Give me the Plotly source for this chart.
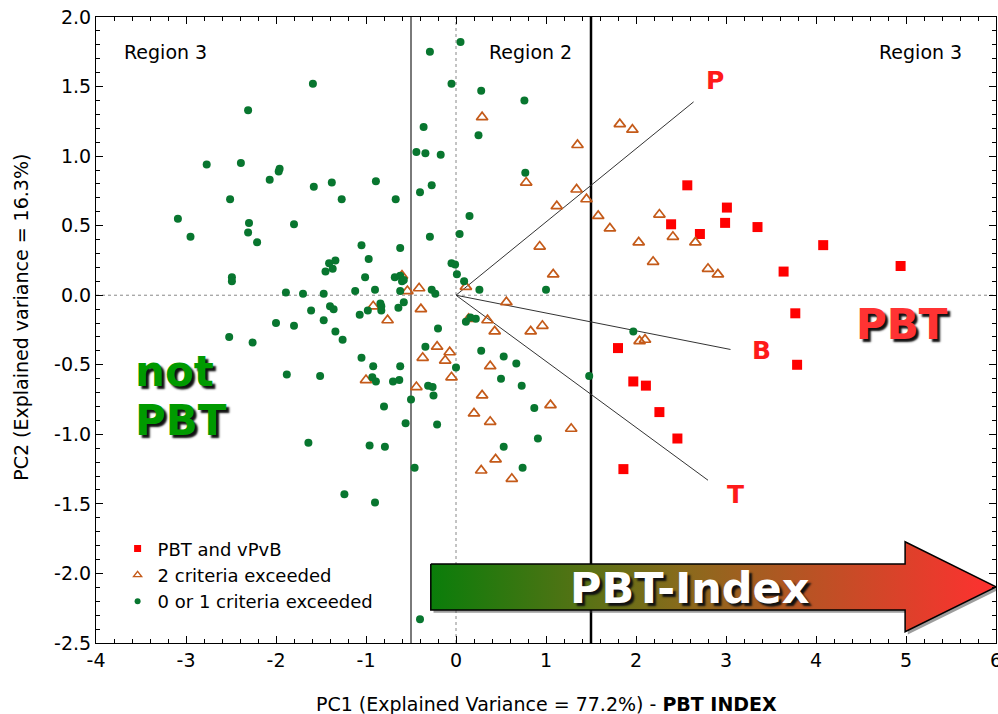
import plotly.graph_objects as go

# ---------------- data ----------------
pbt_x = [2.57, 3.01, 2.39, 2.99, 3.35, 2.71, 4.08, 4.94, 3.64, 3.77, 1.80, 3.79, 1.97, 2.11, 2.26, 2.46, 1.86]
pbt_y = [0.79, 0.63, 0.51, 0.52, 0.49, 0.44, 0.36, 0.21, 0.17, -0.13, -0.38, -0.50, -0.62, -0.65, -0.84, -1.03, -1.25]

two_x = [0.29, 1.82, 1.96, 1.35, 0.78, 1.34, 1.45, 1.12, 1.58, 1.71, 2.26, 2.41, 2.03, 2.66, 2.19, 2.80, 2.91,
         0.93, 1.08, 0.11, -0.41, -0.54, -0.60,
         0.56, -0.39, -0.92, -0.76, 0.14, 0.35, 0.43, 0.83, 0.96, -0.21, -0.07, -0.37, -0.12, 0.38, -0.05,
         -0.44, -1.00, 0.29, 1.05, 0.20, 0.38, 1.28, 0.44, 0.28, 0.62, 2.04, 2.10]
two_y = [1.28, 1.23, 1.19, 1.08, 0.81, 0.76, 0.69, 0.64, 0.57, 0.48, 0.58, 0.42, 0.38, 0.38, 0.24, 0.19, 0.15,
         0.35, 0.15, 0.06, 0.05, 0.03, 0.14,
         -0.05, -0.10, -0.08, -0.18, -0.17, -0.18, -0.26, -0.26, -0.22, -0.37, -0.41, -0.45, -0.47, -0.51, -0.59,
         -0.66, -0.61, -0.72, -0.79, -0.85, -0.91, -0.96, -1.18, -1.26, -1.32, -0.33, -0.32]

low_x = [-1.59, -2.31, -2.77, -2.39, -1.96, -1.97, -2.07, -1.58, -1.38, -0.89, -2.51, -1.27, -0.67, -3.09, -2.30,
         -1.80, -2.95, -2.31, -2.21, -1.05, -0.62, -0.97, -1.41, -1.34, -1.37, -1.45, -1.01, -2.49, -2.49, -0.68,
         -0.62, -0.60, -0.58, -0.90, -1.89, -1.70, -1.47, -1.12, -0.62,
         0.05, -0.29, -0.05, 0.28, 0.76, -0.36, 0.25, -0.44, -0.34, -0.17, 0.77, -0.27, -0.40, 0.15, -0.29, 0.04,
         -0.05, -0.01, 0.01, 0.09, 0.26, 1.00, -0.27, -0.23,
         -0.84, -0.83, -0.83, -0.98, -0.58, -0.64, -1.61, -1.40, -1.36, -1.07, -1.47, -2.00, -1.80, -1.34, -1.26,
         -2.52, -2.26, -1.05, -0.92, -0.62, -1.88, -1.51, -0.93, -0.89, -0.70, -0.63, -0.50, -0.80, -0.56, -1.64,
         -0.96, -0.79, -0.46, -1.24, -0.90, -0.40,
         0.16, 0.11, 0.22, -0.20, -0.34, 0.28, 0.53, 0.67, 0.00, 0.50, 0.73, -0.31, -0.26, -0.25, 1.48, 1.97,
         0.87, -0.21, 0.91, 0.53, 0.74]
low_y = [1.52, 1.33, 0.94, 0.95, 0.91, 0.89, 0.83, 0.78, 0.81, 0.82, 0.69, 0.69, 0.69, 0.55, 0.52,
         0.51, 0.42, 0.45, 0.38, 0.36, 0.34, 0.26, 0.23, 0.25, 0.19, 0.17, 0.13, 0.13, 0.10, 0.13,
         0.14, 0.10, 0.11, 0.04, 0.02, 0.01, 0.01, 0.03, 0.03,
         1.82, 1.75, 1.52, 1.47, 1.40, 1.21, 1.15, 1.03, 1.02, 1.01, 0.88, 0.79, 0.74, 0.57, 0.42, 0.44,
         0.23, 0.22, 0.15, 0.10, 0.04, 0.04, 0.04, 0.01,
         -0.06, -0.08, -0.11, -0.11, -0.05, -0.09, -0.11, -0.08, -0.10, -0.14, -0.18, -0.20, -0.22, -0.26, -0.32,
         -0.30, -0.34, -0.45, -0.51, -0.51, -0.57, -0.58, -0.59, -0.62, -0.62, -0.61, -0.75, -0.80, -0.92, -1.06,
         -1.08, -1.09, -1.24, -1.43, -1.49, -2.33,
         -0.16, -0.19, -0.17, -0.24, -0.37, -0.40, -0.44, -0.49, -0.52, -0.60, -0.65, -0.65, -0.66, -0.72, -0.58, -0.26,
         -0.81, -0.93, -1.03, -1.09, -1.24]

series_names = ["PBT and vPvB", "2 criteria exceeded", "0 or 1 criteria exceeded"]

loading_names = ["P", "B", "T"]
loading_x = [2.64, 3.05, 2.80]
loading_y = [1.39, -0.39, -1.33]
loading_label_x = [2.88, 3.39, 3.10]
loading_label_y = [1.54, -0.40, -1.43]

x_ticks = [-4, -3, -2, -1, 0, 1, 2, 3, 4, 5, 6]
y_ticks = [-2.5, -2.0, -1.5, -1.0, -0.5, 0.0, 0.5, 1.0, 1.5, 2.0]
region_bounds = [-0.5, 1.5]

# ---------------- styles ----------------
GREEN = "#08762f"
ORANGE = "#c45a19"
RED = "#ff0000"
BASE_FONT = "DejaVu Sans, Arial, sans-serif"
BOLD_FONT = "DejaVu Sans, Arial, sans-serif"

fig = go.Figure()

# PBT-Index arrow (decoration, drawn beneath markers)
ax = [-0.28, 4.99, 4.99, 6.0, 4.99, 4.99, -0.28, -0.28]
ay = [-1.932, -1.932, -1.772, -2.096, -2.419, -2.263, -2.263, -1.932]
fig.add_trace(go.Scatter(x=[v + 0.03 for v in ax], y=[v - 0.02 for v in ay], mode="lines", fill="toself",
                         fillcolor="rgba(60,60,60,0.5)", line=dict(width=0, color="rgba(0,0,0,0)"),
                         hoverinfo="skip", showlegend=False))
fig.add_trace(go.Scatter(x=ax, y=ay, mode="lines", fill="toself",
                         fillgradient=dict(type="horizontal",
                                           colorscale=[[0, "#0a7d0a"], [0.45, "#8a6a1c"], [1, "#ff3030"]]),
                         line=dict(width=1.5, color="black"), hoverinfo="skip", showlegend=False))

# data traces
fig.add_trace(go.Scatter(x=pbt_x, y=pbt_y, mode="markers", name=series_names[0], showlegend=False,
                         marker=dict(symbol="square", size=10, color=RED, line=dict(width=0))))
fig.add_trace(go.Scatter(x=two_x, y=two_y, mode="markers", name=series_names[1], showlegend=False,
                         marker=dict(symbol="triangle-up-open", size=10, color=ORANGE,
                                     line=dict(width=1.7, color=ORANGE))))
fig.add_trace(go.Scatter(x=low_x, y=low_y, mode="markers", name=series_names[2], showlegend=False,
                         marker=dict(symbol="circle", size=8, color=GREEN, line=dict(width=0))))

# legend entries with the small legend symbols of the original
fig.add_trace(go.Scatter(x=[None], y=[None], mode="markers", name=series_names[0],
                         marker=dict(symbol="square", size=7, color=RED, line=dict(width=0))))
fig.add_trace(go.Scatter(x=[None], y=[None], mode="markers", name=series_names[1],
                         marker=dict(symbol="triangle-up-open", size=7, color=ORANGE,
                                     line=dict(width=1.4, color=ORANGE))))
fig.add_trace(go.Scatter(x=[None], y=[None], mode="markers", name=series_names[2],
                         marker=dict(symbol="circle", size=6, color=GREEN, line=dict(width=0))))

# reference lines
shapes = []
shapes.append(dict(type="line", xref="x", yref="y", x0=0, x1=0, y0=-2.5, y1=2.0,
                   line=dict(color="#888888", width=1, dash="dot"), layer="below"))
shapes.append(dict(type="line", xref="x", yref="y", x0=-4, x1=6, y0=0, y1=0,
                   line=dict(color="#888888", width=1, dash="dot"), layer="below"))
shapes.append(dict(type="line", xref="x", yref="y", x0=region_bounds[0], x1=region_bounds[0], y0=-2.5, y1=2.0,
                   line=dict(color="#7a7a7a", width=2), layer="below"))
shapes.append(dict(type="line", xref="x", yref="y", x0=region_bounds[1], x1=region_bounds[1], y0=-2.5, y1=2.0,
                   line=dict(color="black", width=2.5), layer="below"))
for lx, ly in zip(loading_x, loading_y):
    shapes.append(dict(type="line", xref="x", yref="y", x0=0, y0=0, x1=lx, y1=ly,
                       line=dict(color="#333333", width=1), layer="below"))

annotations = []
for name, lx, ly in zip(loading_names, loading_label_x, loading_label_y):
    annotations.append(dict(x=lx, y=ly, xref="x", yref="y", text=f"<b>{name}</b>", showarrow=False,
                            font=dict(family=BOLD_FONT, size=25, color="#ff1a1a")))
for txt, rx in [("Region 3", -3.23), ("Region 2", 0.83), ("Region 3", 5.16)]:
    annotations.append(dict(x=rx, y=1.75, xref="x", yref="y", text=txt, showarrow=False,
                            font=dict(family=BASE_FONT, size=19, color="black")))
annotations.append(dict(x=-3.59, y=-0.545, xref="x", yref="y", text="<b>not</b>", showarrow=False, xanchor="left",
                        font=dict(family=BOLD_FONT, size=42, color="#009a00", shadow="3px 3px 2px #111")))
annotations.append(dict(x=-3.59, y=-0.90, xref="x", yref="y", text="<b>PBT</b>", showarrow=False, xanchor="left",
                        font=dict(family=BOLD_FONT, size=42, color="#009a00", shadow="3px 3px 2px #111")))
annotations.append(dict(x=4.96, y=-0.21, xref="x", yref="y", text="<b>PBT</b>", showarrow=False,
                        font=dict(family=BOLD_FONT, size=42, color="#ff3333", shadow="3px 3px 2px #111")))
annotations.append(dict(x=2.60, y=-2.105, xref="x", yref="y", text="<b>PBT-Index</b>", showarrow=False,
                        font=dict(family=BOLD_FONT, size=43, color="white", shadow="3px 3px 2px #111")))
# axis titles
annotations.append(dict(x=0.5, y=-0.097, xref="paper", yref="paper", yanchor="middle",
                        text="PC1 (Explained Variance = 77.2%) - <b>PBT INDEX</b>", showarrow=False,
                        font=dict(family=BASE_FONT, size=19, color="black")))
annotations.append(dict(x=-0.083, y=0.52, xref="paper", yref="paper", xanchor="center", yanchor="middle",
                        text="PC2 (Explained variance = 16.3%)", textangle=-90, showarrow=False,
                        font=dict(family=BASE_FONT, size=19, color="black")))

fig.update_layout(
    width=998, height=714,
    margin=dict(l=96, r=2, t=17, b=71, autoexpand=False),
    paper_bgcolor="white", plot_bgcolor="white",
    font=dict(family=BASE_FONT, size=19, color="black"),
    shapes=shapes, annotations=annotations,
    showlegend=True,
    legend=dict(x=0.024, y=0.18, xanchor="left", yanchor="top", bgcolor="rgba(0,0,0,0)",
                font=dict(family=BASE_FONT, size=18, color="black"), itemsizing="trace", tracegroupgap=0),
)
fig.update_xaxes(range=[-4, 6], tickvals=x_ticks, ticktext=[str(v) for v in x_ticks],
                 ticks="inside", ticklen=7, tickcolor="black", showline=True, linecolor="black", linewidth=1,
                 mirror="ticks", showgrid=False, zeroline=False, ticklabeloverflow="allow", automargin=False,
                 minor=dict(dtick=0.2, ticks="inside", ticklen=4, tickcolor="black", showgrid=False),
                 tickfont=dict(family=BASE_FONT, size=19))
fig.update_yaxes(range=[-2.5, 2.0], tickvals=y_ticks, ticktext=[f"{v:.1f}" for v in y_ticks],
                 ticks="inside", ticklen=7, tickcolor="black", showline=True, linecolor="black", linewidth=1,
                 mirror="ticks", showgrid=False, zeroline=False, ticklabeloverflow="allow", automargin=False,
                 minor=dict(dtick=0.1, ticks="inside", ticklen=4, tickcolor="black", showgrid=False),
                 tickfont=dict(family=BASE_FONT, size=19))

fig.write_html("out.html")
